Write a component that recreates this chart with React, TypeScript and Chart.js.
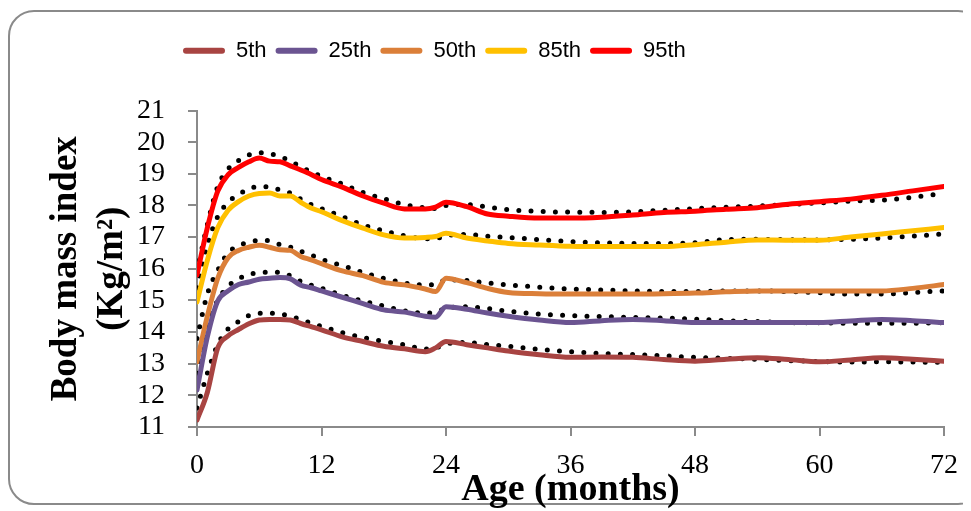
import React, { useEffect, useRef } from 'react';
import { Chart, registerables } from 'chart.js';

Chart.register(...registerables);

// ---- data ----
const months = [0, 1, 2, 3, 4, 5, 6, 7, 8, 9, 10, 11, 12, 14, 16, 18, 20, 22, 23, 24, 26, 28, 30, 33, 36, 39, 42, 45, 48, 51, 54, 57, 60, 63, 66, 69, 72];

const seriesNames = ['5th', '25th', '50th', '85th', '95th'];
const seriesColors = ['#A84442', '#6B5491', '#DB7F39', '#FFC000', '#FF0000'];

const p5 = [11.22, 12.1, 13.5, 13.88, 14.08, 14.26, 14.38, 14.4, 14.4, 14.38, 14.27, 14.17, 14.07, 13.85, 13.7, 13.55, 13.47, 13.38, 13.5, 13.7, 13.6, 13.5, 13.4, 13.28, 13.2, 13.21, 13.2, 13.13, 13.08, 13.14, 13.19, 13.13, 13.06, 13.12, 13.19, 13.14, 13.08];
const p25 = [12.17, 13.85, 14.98, 15.3, 15.5, 15.58, 15.67, 15.7, 15.72, 15.68, 15.48, 15.4, 15.3, 15.1, 14.9, 14.7, 14.63, 14.5, 14.47, 14.8, 14.72, 14.6, 14.5, 14.38, 14.3, 14.36, 14.4, 14.36, 14.3, 14.3, 14.3, 14.3, 14.3, 14.35, 14.4, 14.36, 14.3];
const p50 = [13.06, 14.5, 15.7, 16.35, 16.58, 16.68, 16.74, 16.68, 16.6, 16.58, 16.39, 16.28, 16.16, 15.93, 15.78, 15.57, 15.49, 15.36, 15.28, 15.7, 15.56, 15.38, 15.25, 15.21, 15.2, 15.2, 15.2, 15.21, 15.23, 15.27, 15.3, 15.3, 15.3, 15.3, 15.3, 15.38, 15.5];
const p85 = [14.95, 16.27, 17.3, 17.85, 18.12, 18.3, 18.38, 18.39, 18.3, 18.3, 18.1, 17.92, 17.8, 17.52, 17.28, 17.07, 16.97, 16.99, 17.02, 17.12, 16.97, 16.88, 16.8, 16.75, 16.71, 16.7, 16.7, 16.7, 16.76, 16.84, 16.91, 16.9, 16.9, 17.0, 17.1, 17.2, 17.3];
const p95 = [15.8, 17.3, 18.45, 18.97, 19.2, 19.38, 19.5, 19.4, 19.38, 19.25, 19.12, 18.98, 18.82, 18.58, 18.3, 18.07, 17.89, 17.89, 17.95, 18.1, 17.96, 17.73, 17.66, 17.6, 17.6, 17.63, 17.7, 17.78, 17.82, 17.88, 17.93, 18.04, 18.12, 18.2, 18.32, 18.46, 18.6];

const ref5 = [11.6, 12.7, 13.6, 14.1, 14.33, 14.52, 14.59, 14.6, 14.57, 14.5, 14.39, 14.28, 14.18, 13.98, 13.83, 13.7, 13.6, 13.46, 13.5, 13.62, 13.67, 13.6, 13.55, 13.45, 13.38, 13.32, 13.29, 13.25, 13.2, 13.17, 13.14, 13.1, 13.07, 13.05, 13.06, 13.05, 13.04];
const ref25 = [12.7, 14.2, 15.0, 15.45, 15.68, 15.82, 15.88, 15.89, 15.88, 15.78, 15.6, 15.48, 15.38, 15.16, 14.98, 14.82, 14.67, 14.6, 14.62, 14.75, 14.8, 14.74, 14.66, 14.57, 14.52, 14.49, 14.46, 14.44, 14.41, 14.36, 14.33, 14.3, 14.29, 14.28, 14.28, 14.28, 14.3];
const ref50 = [13.8, 15.2, 15.95, 16.5, 16.73, 16.84, 16.9, 16.88, 16.76, 16.68, 16.55, 16.43, 16.3, 16.1, 15.88, 15.7, 15.55, 15.49, 15.5, 15.65, 15.63, 15.55, 15.49, 15.42, 15.36, 15.33, 15.3, 15.28, 15.28, 15.3, 15.3, 15.28, 15.24, 15.2, 15.2, 15.25, 15.3];
const ref85 = [15.4, 16.75, 17.65, 18.1, 18.35, 18.52, 18.6, 18.58, 18.49, 18.39, 18.2, 18.03, 17.9, 17.65, 17.38, 17.2, 17.04, 16.95, 16.95, 17.05, 17.08, 17.03, 16.99, 16.92, 16.86, 16.82, 16.8, 16.8, 16.82, 16.92, 16.93, 16.92, 16.91, 16.93, 16.97, 17.03, 17.1];
const ref95 = [15.9, 17.4, 18.6, 19.15, 19.42, 19.6, 19.67, 19.63, 19.55, 19.4, 19.22, 19.06, 18.92, 18.68, 18.41, 18.21, 18.03, 17.92, 17.9, 18.0, 18.03, 17.95, 17.87, 17.81, 17.79, 17.78, 17.8, 17.85, 17.9, 17.94, 17.98, 18.03, 18.08, 18.14, 18.17, 18.26, 18.38];

const studySeries = [p5, p25, p50, p85, p95];
const referenceSeries = [ref5, ref25, ref50, ref85, ref95];

const xTicks = [0, 12, 24, 36, 48, 60, 72];
const yMin = 11;
const yMax = 21;

const xTitle = 'Age (months)';
const yTitle = ['Body mass index', '(Kg/m\u00B2)'];

// ---- layout constants ----
const W = 963;
const H = 503;
const serif = "'Liberation Serif', 'Times New Roman', Times, serif";
const sans = "'Liberation Sans', Arial, sans-serif";
const axisGray = '#8a8a8a';

const toPoints = (vals: number[]) => vals.map((v, i) => ({ x: months[i], y: v }));

const legendMover = {
  id: 'legendMover',
  beforeDraw(chart: any) {
    const lg = chart.legend;
    if (!lg) return;
    lg.left = 166;
    lg.top = 22.7;
  },
};

export default function App() {
  const canvasRef = useRef<HTMLCanvasElement | null>(null);

  useEffect(() => {
    if (!canvasRef.current) return;
    const datasets: any[] = [];
    studySeries.forEach((vals, i) => {
      datasets.push({
        label: seriesNames[i],
        data: toPoints(vals),
        borderColor: seriesColors[i],
        backgroundColor: seriesColors[i],
        borderWidth: 5,
        borderCapStyle: 'round',
        borderJoinStyle: 'round',
        pointRadius: 0,
        cubicInterpolationMode: 'monotone',
        order: 0,
        isRef: false,
      });
    });
    referenceSeries.forEach((vals, i) => {
      datasets.push({
        label: 'ref ' + seriesNames[i],
        data: toPoints(vals),
        borderColor: '#000000',
        backgroundColor: '#000000',
        borderWidth: 5,
        borderDash: [0, 12.2],
        borderCapStyle: 'round',
        pointRadius: 0,
        cubicInterpolationMode: 'monotone',
        order: 1,
        isRef: true,
      });
    });

    const chart = new Chart(canvasRef.current, {
      type: 'line',
      data: { datasets },
      plugins: [legendMover],
      options: {
        animation: false,
        responsive: false,
        events: [],
        layout: { padding: { top: 61.5, right: 24, bottom: 0, left: 0 } },
        plugins: {
          tooltip: { enabled: false },
          title: { display: false },
          legend: {
            display: true,
            position: 'top',
            align: 'start',
            labels: {
              boxWidth: 42,
              boxHeight: 6,
              padding: 9,
              color: '#000000',
              useBorderRadius: true,
              borderRadius: 3,
              font: { family: sans, size: 22 },
              generateLabels: (c: any) =>
                c.data.datasets
                  .map((ds: any, i: number) => ({ ds, i }))
                  .filter((o: any) => !o.ds.isRef)
                  .map((o: any) => ({
                    text: o.ds.label,
                    fillStyle: o.ds.borderColor,
                    strokeStyle: o.ds.borderColor,
                    lineWidth: 0,
                    borderRadius: 3,
                    datasetIndex: o.i,
                    hidden: false,
                    fontColor: '#000000',
                  })),
            },
          },
        },
        scales: {
          x: {
            type: 'linear',
            min: 0,
            max: 72,
            afterBuildTicks: (s: any) => {
              s.ticks = xTicks.map((v) => ({ value: v }));
            },
            afterFit: (s: any) => {
              s.height = 84;
            },
            ticks: {
              color: '#000000',
              padding: 13,
              maxRotation: 0,
              autoSkip: false,
              font: { family: serif, size: 28 },
            },
            grid: {
              display: true,
              drawOnChartArea: false,
              drawTicks: true,
              tickLength: 9,
              color: axisGray,
              lineWidth: 2,
            },
            border: { display: true, color: axisGray, width: 2 },
            title: {
              display: true,
              text: xTitle,
              color: '#000000',
              padding: { top: 0, bottom: 0 },
              font: { family: serif, size: 38, weight: 'bold', lineHeight: 1.1 },
            },
          },
          y: {
            type: 'linear',
            min: yMin,
            max: yMax,
            ticks: {
              stepSize: 1,
              autoSkip: false,
              color: '#000000',
              padding: 23,
              font: { family: serif, size: 28 },
            },
            afterFit: (s: any) => {
              s.width = 189;
            },
            grid: {
              display: true,
              drawOnChartArea: false,
              drawTicks: true,
              tickLength: 9,
              color: axisGray,
              lineWidth: 2,
            },
            border: { display: true, color: axisGray, width: 2 },
            title: {
              display: true,
              text: yTitle,
              color: '#000000',
              padding: { top: 35.5, bottom: 0 },
              font: { family: serif, size: 37, weight: 'bold', lineHeight: 1.25 },
            },
          },
        },
      } as any,
    });
    return () => chart.destroy();
  }, []);

  return (
    <div style={{ position: 'relative', width: W, height: H, overflow: 'hidden', background: '#ffffff' }}>
      <div
        style={{
          position: 'absolute',
          left: 0,
          top: 2,
          width: 976,
          height: 495,
          boxSizing: 'border-box',
          border: '2px solid #8a8a8a',
          borderRadius: 26,
        }}
      />
      <canvas ref={canvasRef} width={W} height={H} style={{ position: 'absolute', left: 0, top: 0, display: 'block' }} />
    </div>
  );
}
